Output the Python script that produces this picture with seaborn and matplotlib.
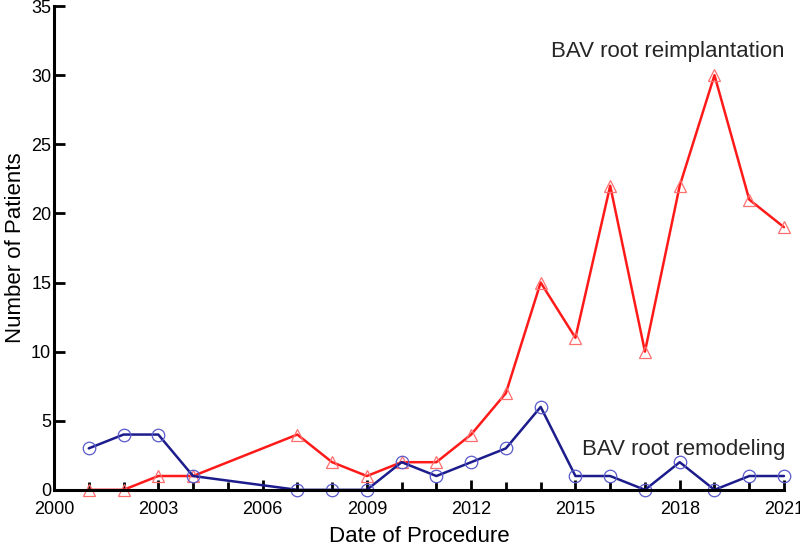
import matplotlib
matplotlib.use('Agg')
import matplotlib.pyplot as plt
import seaborn as sns
import pandas as pd
from matplotlib.ticker import FixedLocator, MultipleLocator

years = [2001, 2002, 2003, 2004, 2007, 2008, 2009, 2010, 2011, 2012,
         2013, 2014, 2015, 2016, 2017, 2018, 2019, 2020, 2021]
reimplantation = [0, 0, 1, 1, 4, 2, 1, 2, 2, 4, 7, 15, 11, 22, 10, 22, 30, 21, 19]
remodeling = [3, 4, 4, 1, 0, 0, 0, 2, 1, 2, 3, 6, 1, 1, 0, 2, 0, 1, 1]
year_ticks = [2000, 2003, 2006, 2009, 2012, 2015, 2018, 2021]

sns.set_style('ticks')
plt.rcParams['font.family'] = ['Liberation Sans', 'DejaVu Sans']

df = pd.DataFrame({'year': years, 'reimp': reimplantation, 'remod': remodeling})

fig = plt.figure(figsize=(8, 5.51), dpi=100)
ax = fig.add_axes([0.0675, 0.111, 0.9125, 0.878])

sns.lineplot(data=df, x='year', y='reimp', ax=ax, color='#ff1a1a', linewidth=1.8,
             marker='^', markersize=9, markerfacecolor='none',
             markeredgecolor='#ff6f6f', markeredgewidth=0.9, clip_on=False)
sns.lineplot(data=df, x='year', y='remod', ax=ax, color='#1c1c8c', linewidth=1.8,
             marker='o', markersize=9, markerfacecolor='none',
             markeredgecolor='#5a5acb', markeredgewidth=0.9, clip_on=False)

ax.text(2017.65, 31.7, 'BAV root reimplantation', fontsize=16, ha='center', va='center')
ax.text(2018.1, 2.9, 'BAV root remodeling', fontsize=16, ha='center', va='center')

ax.set_xlim(2000, 2021)
ax.set_ylim(0, 35)
ax.xaxis.set_major_locator(FixedLocator(year_ticks))
ax.xaxis.set_minor_locator(MultipleLocator(1))
ax.yaxis.set_major_locator(MultipleLocator(5))
ax.tick_params(axis='both', which='both', direction='in', width=2, colors='black',
               labelcolor='black', labelsize=13)
ax.tick_params(axis='x', which='major', length=7, pad=8)
ax.tick_params(axis='x', which='minor', length=6)
ax.tick_params(axis='y', which='major', length=8, pad=2)
sns.despine(ax=ax)
for s in ['left', 'bottom']:
    ax.spines[s].set_linewidth(2.2)
    ax.spines[s].set_color('black')

ax.set_xlabel('Date of Procedure', fontsize=16, labelpad=6, color='black')
ax.set_ylabel('Number of Patients', fontsize=16, labelpad=4, color='black')

fig.savefig('out.png', dpi=100)
